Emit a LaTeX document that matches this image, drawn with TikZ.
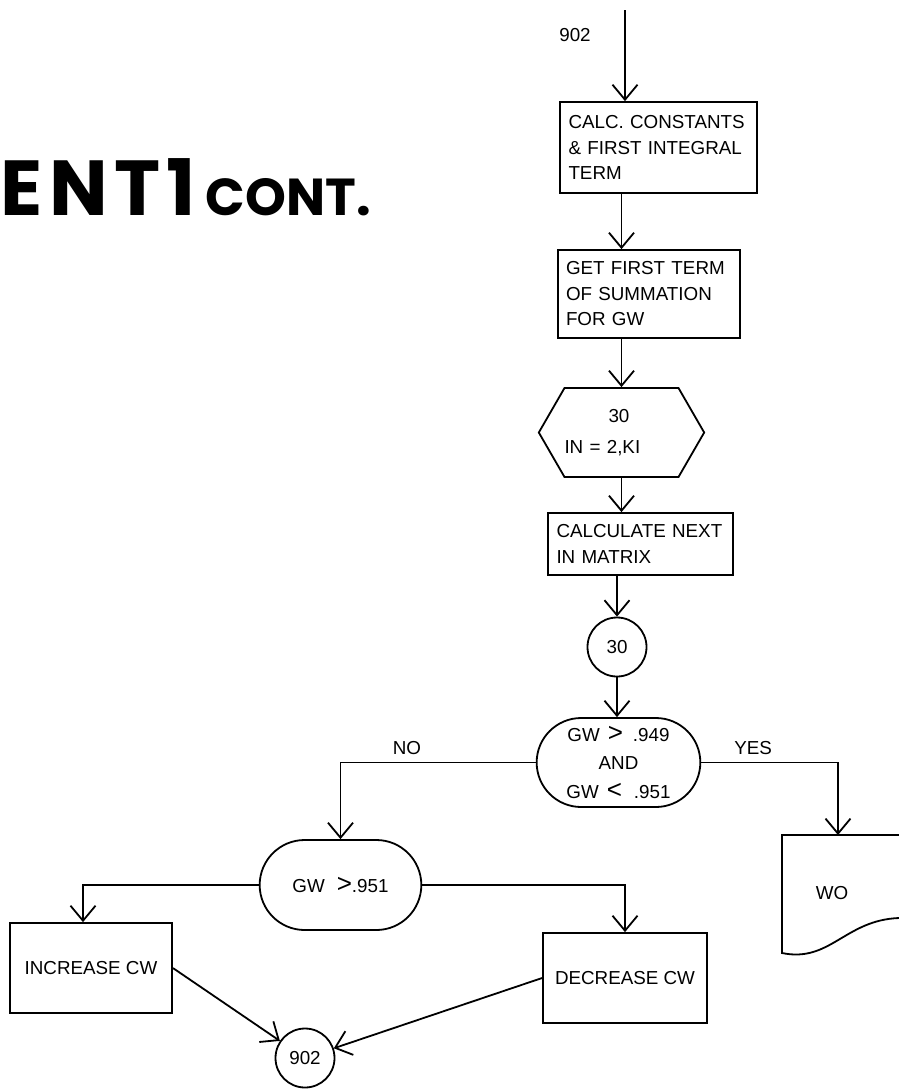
\documentclass[tikz,border=0pt]{standalone}
\usepackage{fontspec}
\setmainfont{Liberation Sans}
\newfontfamily\titlefont{Poppins}
\usetikzlibrary{arrows.meta,shapes.misc,shapes.symbols}
\newcommand{\bigrel}[1]{{\fontsize{13}{13}\selectfont#1}}

\begin{document}
\begin{tikzpicture}[x=0.5pt,y=-0.5pt,
  line width=0.9pt,
  >={Straight Barb[length=7.5pt,width=12.5pt]},
  every node/.style={font=\fontsize{9.4}{12.75}\selectfont},
  procbox/.style={draw, rectangle, align=left, inner xsep=4pt},
  loopbox/.style={draw, signal, signal to=east and west, signal pointer angle=120, inner xsep=0pt, align=left},
  testbox/.style={draw, rounded rectangle, align=center},
  connector/.style={draw, circle, minimum size=29.5pt, inner sep=0pt}]
\useasboundingbox (0,0) rectangle (899,1089);
\node[anchor=base west, inner sep=0pt, font=\titlefont\bfseries] (title) at (0,215)
  {{\fontsize{39}{39}\selectfont\addfontfeature{LetterSpace=8}ENT1}\hspace{5pt}{\fontsize{26}{26}\selectfont CONT.}};
\coordinate (entry) at (625,10);
\node (lbl902) at (575,35) {902};
\node[procbox, minimum width=98.5pt, minimum height=45.5pt, text width=90pt] (calc) at (658.5,147.5)
  {CALC. CONSTANTS\\\& FIRST INTEGRAL\\TERM};
\node[procbox, minimum width=91pt, minimum height=44pt, text width=83pt] (first) at (649,294)
  {GET FIRST TERM\\OF SUMMATION\\FOR GW};
\node[loopbox, minimum height=44.5pt, text width=57pt] (loop) at (621.5,432.5)
  {\hspace*{22pt}30\\[3pt]IN = 2,KI};
\node[procbox, minimum width=92.5pt, minimum height=31pt, text width=84pt] (next) at (640.5,544)
  {CALCULATE NEXT\\IN MATRIX};
\node[connector] (c30) at (617,647) {30};
\node[testbox, minimum width=88.5pt, minimum height=44.5pt] (test) at (618.5,762.5)
  {GW\hspace{4pt}\bigrel{>}\hspace{5pt}.949\\[1.5pt]AND\\[1.5pt]GW\hspace{4pt}\bigrel{<}\hspace{6pt}.951};
\node[testbox, minimum width=87.5pt, minimum height=45pt] (high) at (340.5,885) {GW\hspace{6pt}\bigrel{>}.951};
\node[procbox, align=center, minimum width=81pt, minimum height=45pt] (inc) at (91,968) {INCREASE CW};
\node[procbox, align=center, minimum width=82pt, minimum height=45pt] (dec) at (625,978) {DECREASE CW};
\node (wo) at (832,893) {WO};
\coordinate (wotop) at (838,835);
\draw (899,835) -- (782,835) -- (782,953) .. controls (830,963) and (845,920) .. (899,918);
\node[connector] (c902) at (305,1058) {902};

\draw[->] (entry) -- (entry |- calc.north);
\draw[->] (calc.south -| loop) -- (first.north -| loop);
\draw[->] (first.south -| loop) -- (loop.north);
\draw[->] (loop.south) -- (next.north -| loop);
\draw[->] (next.south -| c30) -- (c30.north);
\draw[->] (c30.south) -- (c30.south |- test.north);
\draw[->] (test.west) -| node[pos=0.33, above] {NO} (high.north);
\draw[->] (test.east) -| node[pos=0.19, above] {YES} (wotop);
\draw[->] (high.west) -| ([xshift=-4pt]inc.north);
\draw[->] (high.east) -| (dec.north);
\draw[->] (inc.east) -- (c902);
\draw[->] (dec.west) -- (c902);
\end{tikzpicture}
\end{document}
